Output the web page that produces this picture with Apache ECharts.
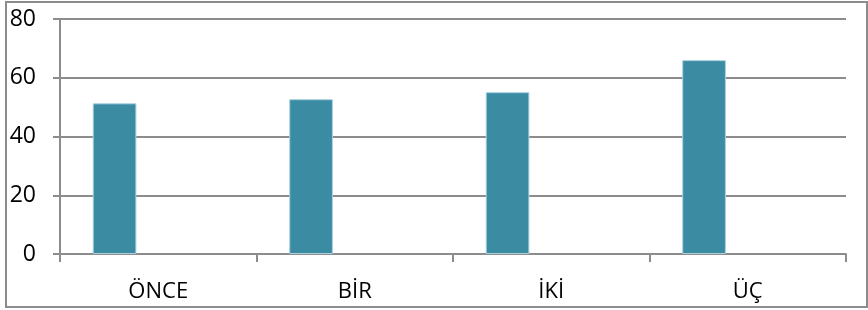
<!DOCTYPE html>
<html lang="tr">
<head>
    <meta charset="UTF-8">
    <title>Grafik</title>
    <script src="https://cdn.jsdelivr.net/npm/echarts@6/dist/echarts.min.js"></script>
    <style>
        html, body { margin: 0; padding: 0; background: #fff; }
    </style>
</head>
<body>
<div id="main" style="width: 868px;height:310px"></div>
<script>
    const categories = ['ÖNCE', 'BİR', 'İKİ', 'ÜÇ']
    const values = [51.3, 52.7, 55.1, 66.0]
    // the other two series in the sheet are empty, they only take room in each category
    const emptyA = []
    const emptyB = []
    const yTicks = { min: 0, max: 80, step: 20 }

    const gray = '#8c8c8c'
    const myChart = echarts.init(document.getElementById('main'))
    const option = {
        animation: false,
        grid: { left: 60, right: 22, top: 19, bottom: 56 },
        graphic: [{
            type: 'rect',
            shape: { x: 6, y: 2, width: 861, height: 305 },
            style: { fill: 'none', stroke: gray, lineWidth: 2 },
            silent: true
        }],
        xAxis: {
            type: 'category',
            data: categories,
            axisLine: { lineStyle: { color: gray, width: 2 } },
            axisTick: { show: true, length: 8, lineStyle: { color: gray, width: 2 } },
            axisLabel: { color: '#000', fontFamily: 'Open Sans', fontSize: 22, margin: 27 }
        },
        yAxis: {
            type: 'value',
            min: yTicks.min,
            max: yTicks.max,
            interval: yTicks.step,
            axisLine: { show: true, lineStyle: { color: gray, width: 2 } },
            axisTick: { show: true, length: 7, lineStyle: { color: gray, width: 2 } },
            splitLine: { lineStyle: { color: gray, width: 2 } },
            axisLabel: { color: '#000', fontFamily: 'Open Sans', fontSize: 23, margin: 24 }
        },
        series: [
            {
                type: 'bar',
                data: values,
                barGap: '0%',
                barCategoryGap: '33.3%',
                itemStyle: { color: '#3b8ba3', borderColor: '#a9d3e0', borderWidth: 1 }
            },
            { type: 'bar', data: emptyA },
            { type: 'bar', data: emptyB }
        ]
    }
    myChart.setOption(option)
</script>
</body>
</html>
